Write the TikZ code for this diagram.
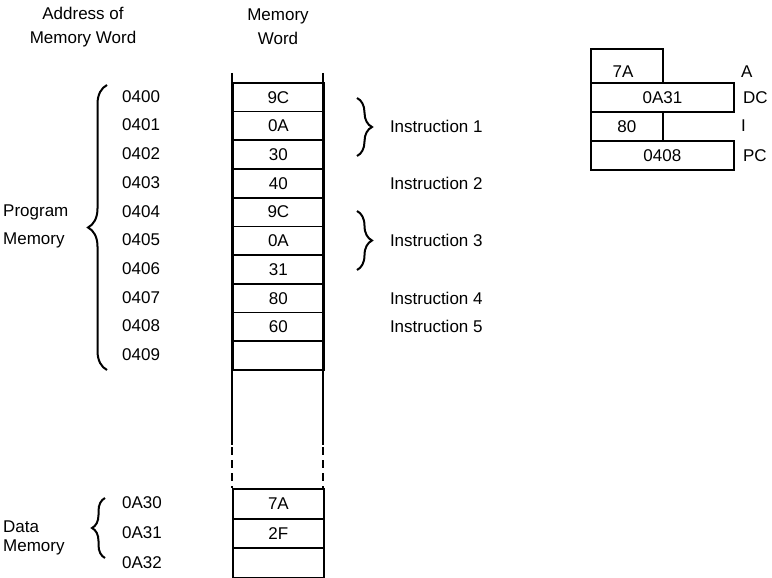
\documentclass[tikz,border=0pt]{standalone}
\usepackage{fontspec}
\setmainfont{Liberation Sans}
\usetikzlibrary{positioning}
\usetikzlibrary{calc}
\usetikzlibrary{decorations.pathreplacing}

\begin{document}
\begin{tikzpicture}[x=1pt,y=-1pt,
  every node/.style={font=\fontsize{17}{20}\selectfont, inner sep=0pt},
  cell/.style={draw, line width=1.8pt, minimum width=91pt, minimum height=28.7pt, anchor=north west},
  reg/.style={draw, line width=1.8pt, anchor=north west, minimum height=29pt},
  addr/.style={anchor=west},
  curly/.style={decorate, decoration={brace, amplitude=#1}, line width=2pt}]

\useasboundingbox (0,0) rectangle (772,578);

%---------------------------------------
% Shared values
%---------------------------------------
\def\colL{232}   % left side of memory column
\def\colR{323}   % right side of memory column
\def\rowH{28.7}  % program row height
\def\topY{82}    % first row
\def\datY{488}   % first data row
\def\datH{29.7}  % data row height

%====================================================
% Headings
%====================================================
\node[align=center, font=\fontsize{17}{24}\selectfont] (hAddr) at (83,27) {Address of\\Memory Word};
\node[align=center, font=\fontsize{17}{24}\selectfont] (hWord) at (278,27) {Memory\\Word};

%====================================================
% Memory column
%====================================================
% ---- Program memory ----
\foreach \word [count=\i from 0] in {9C,0A,30,40,9C,0A,31,80,60,{}} {
  \node[cell] (m\i) at (\colL,{\topY+\i*\rowH}) {\word};
  \node[addr] (a\i) at (122,{\topY+(\i+0.5)*\rowH}) {040\i};
}

% ---- Data memory ----
\foreach \word [count=\i from 0] in {7A,2F,{}} {
  \node[cell, minimum height=\datH pt] (d\i) at (\colL,{\datY+\i*\datH}) {\word};
  \node[addr] (b\i) at (122,{\datY+(\i+0.5)*\datH}) {0A3\i};
}

% Column sides (solid, then broken)
\draw[line width=1.8pt] (\colL,73) -- (\colL,445);
\draw[line width=1.8pt] (\colR,73) -- (\colR,445);
\draw[line width=1.8pt, dash pattern=on 8pt off 5pt] (\colL,447) -- (\colL,488);
\draw[line width=1.8pt, dash pattern=on 8pt off 5pt] (\colR,447) -- (\colR,488);

%====================================================
% Braces and group labels
%====================================================
\coordinate (pBot) at (107,370);
\coordinate (pTop) at (107,85);
\draw[curly=19pt] (pBot) -- (pTop);
\node[anchor=west, align=left, font=\fontsize{17}{28}\selectfont] (prog) at (3,226) {Program\\Memory};

\coordinate (dBot) at (105,558);
\coordinate (dTop) at (105,498);
\draw[curly=13pt] (dBot) -- (dTop);
\node[anchor=west, align=left, font=\fontsize{17}{19}\selectfont] (data) at (3,538) {Data\\Memory};

% Instruction braces
\coordinate (i1Top) at (357,98);
\coordinate (i1Bot) at (357,156);
\draw[curly=15pt] (i1Top) -- (i1Bot);
\coordinate (i3Top) at (357,211);
\coordinate (i3Bot) at (357,270);
\draw[curly=15pt] (i3Top) -- (i3Bot);

\node[right=65pt of m1] (ins1) {Instruction  1};
\node[right=65pt of m3] (ins2) {Instruction  2};
\node[right=65pt of m5] (ins3) {Instruction  3};
\node[right=65pt of m7] (ins4) {Instruction  4};
\node[right=65pt of m8] (ins5) {Instruction  5};

%====================================================
% Registers
%====================================================
\node[reg, minimum width=72pt, minimum height=34pt] (regA) at (590,48) {};
\node (valA) at (623,72) {7A};
\node[reg, minimum width=143pt] (regDC) at (590,82) {0A31};
\node[reg, minimum width=72pt] (regI) at (590,111) {80};
\node[reg, minimum width=143pt] (regPC) at (590,140) {0408};

\node[anchor=west] (labA) at (741,72) {A};
\node[right=8pt of regDC] (labDC) {DC};
\node[anchor=west] (labI) at (741,126) {I};
\node[right=8pt of regPC] (labPC) {PC};

\end{tikzpicture}
\end{document}
